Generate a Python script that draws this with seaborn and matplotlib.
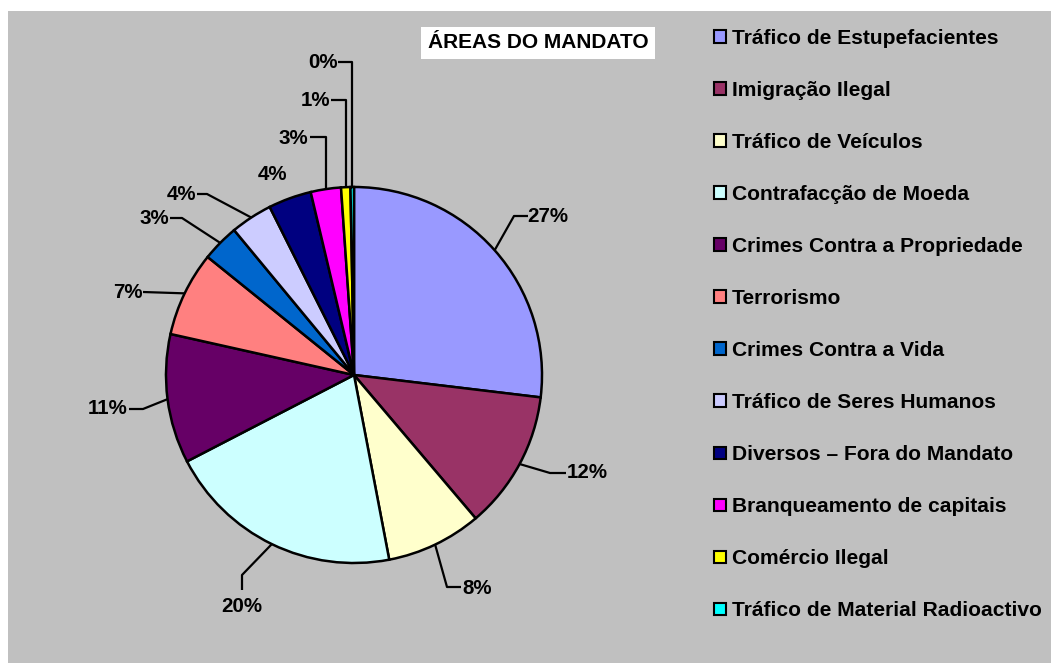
import matplotlib
matplotlib.use('Agg')
import numpy as np
import matplotlib.pyplot as plt
import seaborn as sns
from matplotlib.patches import Rectangle

# Dados (percentagens por área do mandato)
categorias = ['Tráfico de Estupefacientes', 'Imigração Ilegal', 'Tráfico de Veículos',
              'Contrafacção de Moeda', 'Crimes Contra a Propriedade', 'Terrorismo',
              'Crimes Contra a Vida', 'Tráfico de Seres Humanos', 'Diversos – Fora do Mandato',
              'Branqueamento de capitais', 'Comércio Ilegal', 'Tráfico de Material Radioactivo']
percentagens = [26.9, 11.9, 8.2, 20.4, 11.1, 7.3, 3.2, 3.6, 3.7, 2.6, 0.8, 0.3]
cores = ['#9999FF', '#993366', '#FFFFCC', '#CCFFFF', '#660066', '#FF8080',
         '#0066CC', '#CCCCFF', '#000080', '#FF00FF', '#FFFF00', '#00FFFF']
titulo = 'ÁREAS DO MANDATO'

sns.set_theme(style='white')
plt.rcParams['font.family'] = ['Liberation Sans', 'DejaVu Sans']
plt.rcParams['font.weight'] = 'bold'
plt.rcParams['text.color'] = 'black'

W, H = 1051, 663
CX, CY, R = 354, 375, 188


def d(px, py):
    # pixel -> unidades do gráfico (raio = 1)
    return (px - CX) / R, (CY - py) / R


fig = plt.figure(figsize=(W / 100, H / 100), dpi=100)
fig.patches.append(Rectangle((8 / W, 0), 1 - 8 / W, 1 - 11 / H, transform=fig.transFigure,
                             facecolor='#C0C0C0', edgecolor='none', zorder=-5))
ax = fig.add_axes([0, 0, 1, 1])
ax.patch.set_alpha(0)

wedges, _ = ax.pie(percentagens, colors=cores, startangle=90, counterclock=False,
                   wedgeprops=dict(edgecolor='black', linewidth=1.8))
ax.set_xlim(-CX / R, (W - CX) / R)
ax.set_ylim((CY - H) / R, CY / R)
ax.set_aspect('auto')
ax.axis('off')

# posição dos rótulos e linhas de chamada (pixels)
pos_rotulos = [(548, 217), (587, 473), (477, 588), (242, 606), (108, 409), (128, 293),
               (154, 218), (181, 195), (272, 175), (293, 138), (316, 100), (323, 62)]
guias = [[(514, 216), (528, 216)], [(550, 473), (566, 473)], [(447, 587), (461, 587)],
         [(242, 575), (242, 590)], [(143, 409), (129, 409)], [(143, 292)],
         [(182, 218), (170, 218)], [(207, 194), (197, 194)], [],
         [(None, 137), (310, 137)], [(None, 100), (331, 100)], [(None, 62), (338, 62)]]

for w, v, (tx, ty), guia in zip(wedges, percentagens, pos_rotulos, guias):
    ax.text(*d(tx, ty), f'{v:.0f}%', ha='center', va='center', fontsize=14.8,
            fontweight='bold', color='black')
    if not guia:
        continue
    m = np.deg2rad((w.theta1 + w.theta2) / 2)
    xs, ys = [np.cos(m)], [np.sin(m)]
    for px, py in guia:
        x, y = d(px if px is not None else 0, py)
        if px is None:
            x = xs[0]
        xs.append(x)
        ys.append(y)
    ax.plot(xs, ys, color='black', lw=1.6, solid_capstyle='butt', zorder=5)

fig.text(538 / W, 1 - 43 / H, titulo, ha='center', va='center', fontsize=15,
         fontweight='bold', color='black',
         bbox=dict(boxstyle='square,pad=0.32', facecolor='white', edgecolor='none'))

leg = ax.legend(wedges, categorias, loc='upper left', bbox_to_anchor=(714 / W, 1 - 29 / H),
                bbox_transform=fig.transFigure, frameon=False, fontsize=15.1,
                handlelength=0.55, handleheight=0.55, handletextpad=0.3,
                labelspacing=1.575, borderpad=0, borderaxespad=0)
for h in leg.legend_handles:
    h.set_linewidth(1.5)
    h.set_edgecolor('black')
for t in leg.get_texts():
    t.set_color('black')

fig.savefig('out.png', dpi=100)
